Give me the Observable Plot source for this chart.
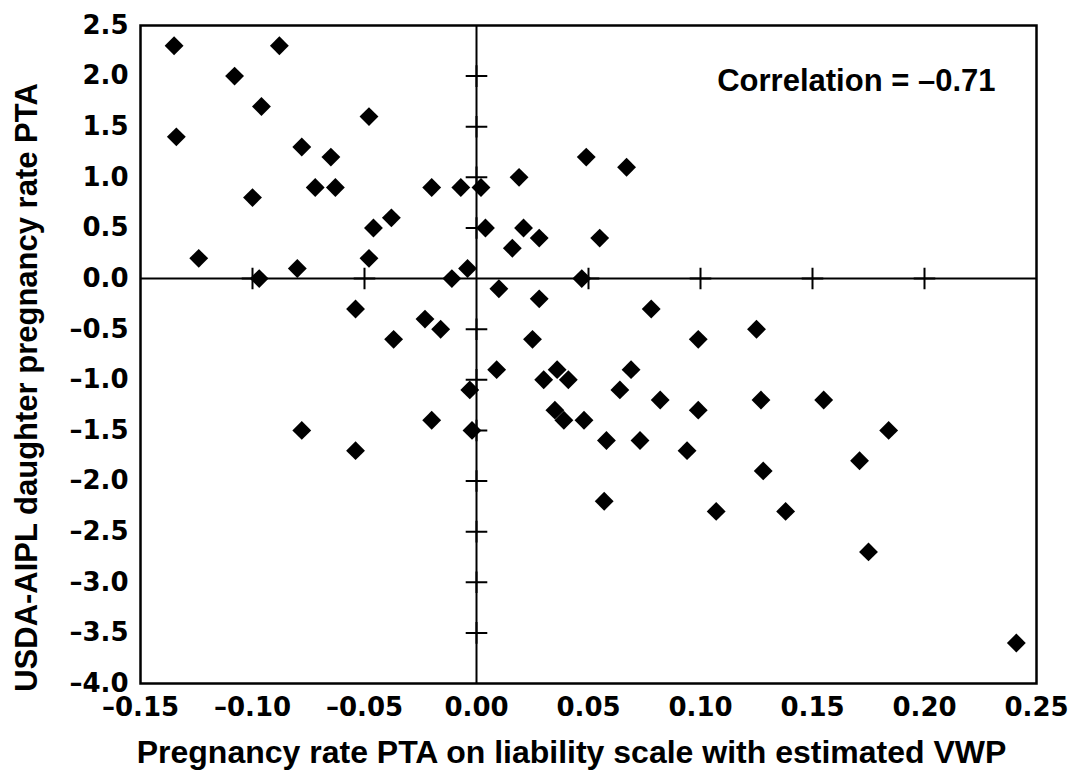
<!DOCTYPE html>
<html>
<head>
<meta charset="utf-8">
<script src="https://cdn.jsdelivr.net/npm/d3@7"></script>
<script src="https://cdn.jsdelivr.net/npm/@observablehq/plot@0.6"></script>
<style>
  html, body { margin: 0; padding: 0; background: #fff; }
</style>
</head>
<body>
<div id="chart"></div>
<script>
// Data
const xValues = [
  -0.135, -0.088, -0.108, -0.096, -0.134, -0.048, -0.078, -0.065, -0.100, -0.072,
  -0.063, -0.020, -0.007, 0.002, -0.046, -0.038, -0.124, -0.048, -0.080, -0.097,
  -0.004, -0.011, 0.004, 0.019, 0.049, 0.067, 0.021, 0.028, 0.016, 0.055,
  0.047, 0.010, -0.054, -0.023, -0.016, -0.037, -0.003, -0.020, -0.002, -0.078,
  -0.054, 0.028, 0.078, 0.125, 0.025, 0.099, 0.009, 0.036, 0.069, 0.030,
  0.041, 0.064, 0.082, 0.127, 0.155, 0.035, 0.099, 0.039, 0.048, 0.058,
  0.073, 0.094, 0.128, 0.057, 0.107, 0.138, 0.184, 0.171, 0.175, 0.241
];
const yValues = [
  2.3, 2.3, 2.0, 1.7, 1.4, 1.6, 1.3, 1.2, 0.8, 0.9,
  0.9, 0.9, 0.9, 0.9, 0.5, 0.6, 0.2, 0.2, 0.1, 0.0,
  0.1, 0.0, 0.5, 1.0, 1.2, 1.1, 0.5, 0.4, 0.3, 0.4,
  0.0, -0.1, -0.3, -0.4, -0.5, -0.6, -1.1, -1.4, -1.5, -1.5,
  -1.7, -0.2, -0.3, -0.5, -0.6, -0.6, -0.9, -0.9, -0.9, -1.0,
  -1.0, -1.1, -1.2, -1.2, -1.2, -1.3, -1.3, -1.4, -1.4, -1.6,
  -1.6, -1.7, -1.9, -2.2, -2.3, -2.3, -1.5, -1.8, -2.7, -3.6
];
const xTicks = [-0.15, -0.10, -0.05, 0.00, 0.05, 0.10, 0.15, 0.20, 0.25];
const yTicks = [2.5, 2.0, 1.5, 1.0, 0.5, 0.0, -0.5, -1.0, -1.5, -2.0, -2.5, -3.0, -3.5, -4.0];
const xTickLabels = ["–0.15", "–0.10", "–0.05", "0.00", "0.05", "0.10", "0.15", "0.20", "0.25"];
const yTickLabels = ["2.5", "2.0", "1.5", "1.0", "0.5", "0.0", "–0.5", "–1.0", "–1.5", "–2.0", "–2.5", "–3.0", "–3.5", "–4.0"];
const xTitle = "Pregnancy rate PTA on liability scale with estimated VWP";
const yTitle = "USDA-AIPL daughter pregnancy rate PTA";
const correlationLabel = "Correlation = –0.71";

const points = xValues.map((x, i) => ({x, y: yValues[i]}));
const xCross = xTicks.slice(1, -1).filter(d => d !== 0).map(x => ({x, y: 0}));
const yCross = yTicks.slice(1, -1).filter(d => d !== 0).map(y => ({x: 0, y}));

const FONT = "Liberation Sans, Arial, sans-serif";
const TICKFONT = "DejaVu Sans, sans-serif";

const chart = Plot.plot({
  width: 1071,
  height: 784,
  marginLeft: 140,
  marginRight: 35,
  marginTop: 25,
  marginBottom: 101,
  x: {domain: [-0.15, 0.25]},
  y: {domain: [-4, 2.5]},
  style: {fontFamily: FONT, color: "black", background: "white"},
  marks: [
    Plot.ruleX([0], {stroke: "black", strokeWidth: 2}),
    Plot.ruleY([0], {stroke: "black", strokeWidth: 2}),
    Plot.dot(xCross, {x: "x", y: "y", symbol: "plus", r: 7, stroke: "black", strokeWidth: 2}),
    Plot.dot(yCross, {x: "x", y: "y", symbol: "plus", r: 7, stroke: "black", strokeWidth: 2}),
    Plot.frame({stroke: "black", strokeWidth: 2.5}),
    Plot.axisX({
      ticks: xTicks, tickSize: 0, tickPadding: 14,
      tickFormat: d => xTickLabels[xTicks.findIndex(t => Math.abs(t - d) < 1e-9)],
      fontSize: 26, fontWeight: "bold", fontFamily: TICKFONT, label: null
    }),
    Plot.axisY({
      ticks: yTicks, tickSize: 0, tickPadding: 12,
      tickFormat: d => yTickLabels[yTicks.findIndex(t => Math.abs(t - d) < 1e-9)],
      fontSize: 26, fontWeight: "bold", fontFamily: TICKFONT, label: null
    }),
    Plot.dot(points, {x: "x", y: "y", symbol: "diamond2", r: 8.5, fill: "black", stroke: "none"}),
    Plot.text([correlationLabel], {
      text: d => d, frameAnchor: "top-right", dx: -41, dy: 56,
      textAnchor: "end", lineAnchor: "middle",
      fontSize: 31, fontWeight: "bold", fontFamily: FONT, fill: "black"
    }),
    Plot.text([xTitle], {
      text: d => d, frameAnchor: "bottom", dx: -17, dy: 69,
      textAnchor: "middle", lineAnchor: "middle",
      fontSize: 32, fontWeight: "bold", fontFamily: FONT, fill: "black"
    }),
    Plot.text([yTitle], {
      text: d => d, frameAnchor: "left", dx: -113, dy: 33, rotate: -90,
      textAnchor: "middle", lineAnchor: "middle",
      fontSize: 31, fontWeight: "bold", fontFamily: FONT, fill: "black"
    })
  ]
});
document.getElementById("chart").appendChild(chart);
</script>
</body>
</html>
